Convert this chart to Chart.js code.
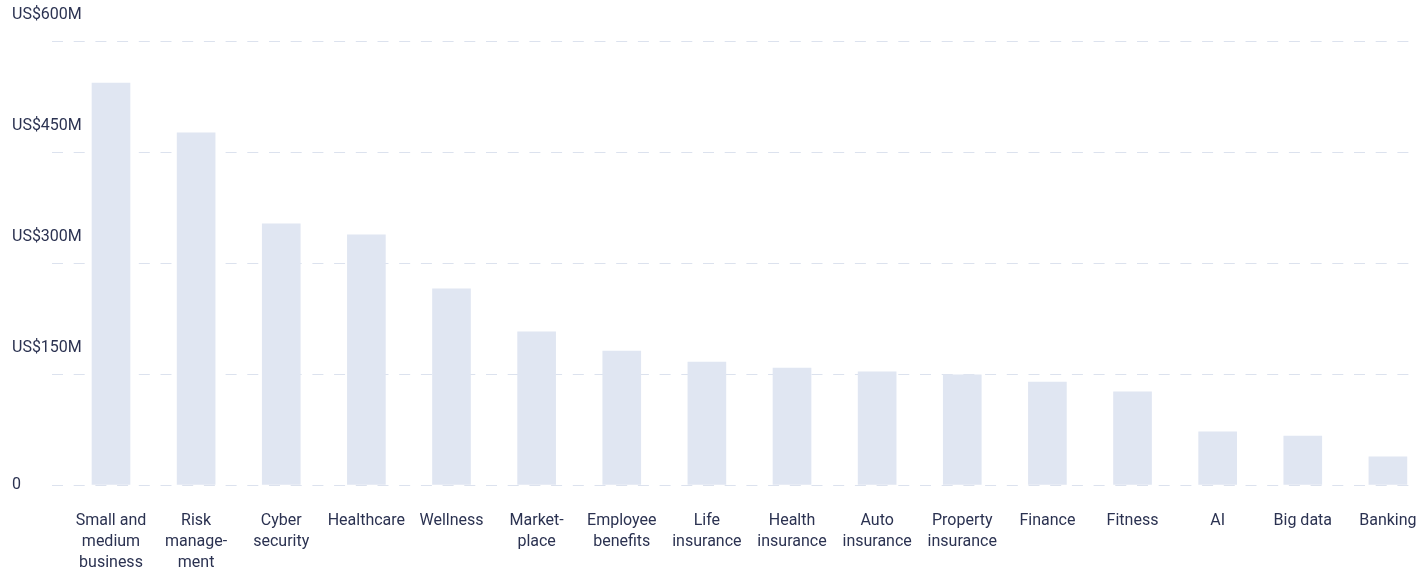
<!DOCTYPE html>
<html>
<head>
<meta charset="utf-8">
<script src="https://cdn.jsdelivr.net/npm/chart.js@4"></script>
<style>
  html, body { margin: 0; padding: 0; background: #fff; }
  #wrap { width: 1416px; height: 575px; }
</style>
</head>
<body>
<div id="wrap"><canvas id="chart"></canvas></div>
<script>
// categories (one array of lines per label)
const categories = [
  ['Small and', 'medium', 'business'],
  ['Risk', 'manage-', 'ment'],
  ['Cyber', 'security'],
  ['Healthcare'],
  ['Wellness'],
  ['Market-', 'place'],
  ['Employee', 'benefits'],
  ['Life', 'insurance'],
  ['Health', 'insurance'],
  ['Auto', 'insurance'],
  ['Property', 'insurance'],
  ['Finance'],
  ['Fitness'],
  ['AI'],
  ['Big data'],
  ['Banking']
];

// funding in US$ millions
const funding = [543, 476, 353, 338, 265, 207, 181, 166, 158, 153, 149, 139, 126, 72, 66, 38];

const yMax = 600;
const yStep = 150;

const textColor = '#2b3251';
const barColor = '#e0e6f2';
const gridColor = '#dce2ee';

const points = funding.map((v, i) => ({ x: i, y: v }));

new Chart(document.getElementById('chart'), {
  type: 'bar',
  data: {
    datasets: [{
      data: points,
      backgroundColor: barColor,
      borderWidth: 0,
      barThickness: 38
    }]
  },
  options: {
    responsive: true,
    maintainAspectRatio: false,
    animation: false,
    layout: { padding: { left: 12, top: 41, right: 0, bottom: 0 } },
    plugins: {
      legend: { display: false },
      tooltip: { enabled: false }
    },
    scales: {
      x: {
        type: 'linear',
        offset: false,
        min: -0.693,
        max: 15.33,
        grid: { display: false },
        border: { display: false },
        ticks: {
          stepSize: 1,
          includeBounds: false,
          autoSkip: false,
          maxRotation: 0,
          padding: 17,
          color: textColor,
          font: { family: 'Roboto', size: 16, lineHeight: '21.3px' },
          callback: (v) => categories[v] || ''
        },
        afterFit: (s) => {
          s.height = 90;
          s.paddingLeft = 0;
          s.paddingRight = 0;
        }
      },
      y: {
        min: 0,
        max: yMax,
        grid: {
          color: gridColor,
          lineWidth: 1,
          drawTicks: false
        },
        border: { display: false, dash: [11, 10.7] },
        ticks: {
          stepSize: yStep,
          mirror: true,
          crossAlign: 'near',
          padding: -40,
          color: textColor,
          font: { family: 'Roboto', size: 16, lineHeight: '52px' },
          callback: (v) => v === 0 ? '0' : ['US$' + v + 'M', '']
        },
        afterFit: (s) => {
          s.width = 40;
          s.paddingTop = 0;
          s.paddingBottom = 0;
        }
      }
    }
  }
});
</script>
</body>
</html>
